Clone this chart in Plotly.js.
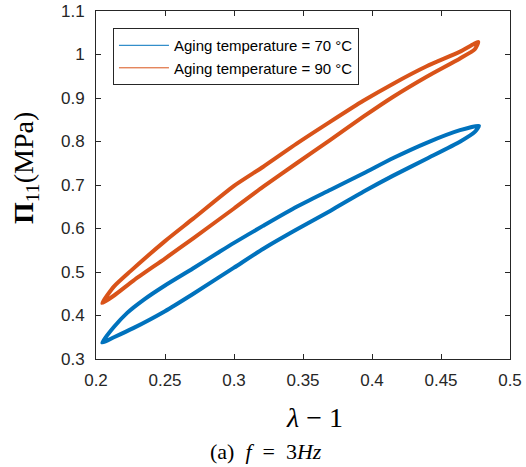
<!DOCTYPE html>
<html>
<head>
<meta charset="utf-8">
<script src="https://cdn.plot.ly/plotly-3.0.1.min.js"></script>
<style>html,body{margin:0;padding:0;background:#fff;}#chart{width:526px;height:467px;}</style>
</head>
<body>
<div id="chart"></div>
<script>
// Aging temperature = 70 °C : loop (lower branch left->right, then upper branch right->left)
var strain70 = [0.2045,0.213,0.227,0.25,0.27,0.3,0.321,0.345,0.37,0.394,0.415,0.44,0.464,0.4745,0.4775,
                0.4638,0.4396,0.4154,0.394,0.37,0.3454,0.321,0.3,0.2893,0.2702,0.25,0.2345,0.2226,0.2131,0.2045];
var stress70 = [0.338,0.350,0.371,0.410,0.449,0.510,0.553,0.597,0.641,0.685,0.721,0.761,0.800,0.822,0.836,
                0.826,0.797,0.762,0.727,0.689,0.650,0.606,0.567,0.546,0.508,0.469,0.436,0.406,0.374,0.338];
// Aging temperature = 90 °C
var strain90 = [0.2045,0.2131,0.2274,0.25,0.2702,0.3,0.3212,0.3454,0.3696,0.3937,0.4154,0.4396,0.4638,0.4745,0.477,
                0.4638,0.4396,0.4154,0.3937,0.3696,0.3454,0.3212,0.3,0.2702,0.25,0.225,0.2131,0.2045];
var stress90 = [0.4285,0.446,0.481,0.531,0.577,0.646,0.696,0.750,0.803,0.857,0.903,0.949,0.991,1.012,1.029,
                1.0065,0.973,0.933,0.8935,0.845,0.795,0.742,0.698,0.622,0.571,0.502,0.467,0.4285];
var seriesNames = ['Aging temperature = 70 °C', 'Aging temperature = 90 °C'];
var xTickVals = [0.2,0.25,0.3,0.35,0.4,0.45,0.5];
var yTickVals = [0.3,0.4,0.5,0.6,0.7,0.8,0.9,1,1.1];

var blue = '#0072BD', orange = '#D95319', axc = '#262626';
var data = [
  {x: strain70, y: stress70, mode:'lines', line:{color:blue, width:4, shape:'spline', smoothing:0.6}, showlegend:false, hoverinfo:'skip'},
  {x: strain90, y: stress90, mode:'lines', line:{color:orange, width:4, shape:'spline', smoothing:0.6}, showlegend:false, hoverinfo:'skip'},
  {x: strain70, y: stress70, mode:'lines', name: seriesNames[0], line:{color:blue, width:1, shape:'spline', smoothing:0.6}},
  {x: strain90, y: stress90, mode:'lines', name: seriesNames[1], line:{color:orange, width:1, shape:'spline', smoothing:0.6}}
];
var axisCommon = {
  showgrid:false, zeroline:false, showline:true, linecolor:axc, linewidth:1,
  mirror:'ticks', ticks:'inside', ticklen:5, tickwidth:1, tickcolor:axc,
  tickfont:{family:'Liberation Sans, Arial, sans-serif', size:17, color:axc}
};
var layout = {
  width:526, height:467,
  margin:{l:96, r:16, t:11, b:108, pad:0},
  paper_bgcolor:'#fff', plot_bgcolor:'#fff',
  xaxis: Object.assign({}, axisCommon, {range:[0.2,0.5], tickmode:'array', tickvals:xTickVals,
         ticktext: xTickVals.map(String), ticklabelstandoff:6}),
  yaxis: Object.assign({}, axisCommon, {range:[0.3,1.1], tickmode:'array', tickvals:yTickVals,
         ticktext: yTickVals.map(String), ticklabelstandoff:7}),
  legend:{x:0.041, y:0.951, xanchor:'left', yanchor:'top', bgcolor:'#fff', bordercolor:axc, borderwidth:1,
          font:{family:'Liberation Sans, Arial, sans-serif', size:15, color:'#000'}, itemwidth:50, tracegroupgap:0},
  annotations:[
    {xref:'paper', yref:'paper', x:-0.169, y:0.549, xanchor:'center', yanchor:'middle', textangle:-90, showarrow:false,
     text:'<b>Π</b><sub>11</sub>(MPa)', font:{family:'Liberation Serif, serif', size:28, color:'#000'}},
    {xref:'paper', yref:'paper', x:0.527, y:-0.167, xanchor:'center', yanchor:'middle', showarrow:false,
     text:'<i>λ</i> − 1', font:{family:'Liberation Serif, serif', size:28, color:'#000'}},
    {xref:'paper', yref:'paper', x:0.411, y:-0.267, xanchor:'center', yanchor:'middle', showarrow:false,
     text:'(a)&nbsp;&nbsp;<i>f</i>&nbsp;&nbsp;=&nbsp;&nbsp;3<i>Hz</i>', font:{family:'Liberation Serif, serif', size:22, color:'#000'}}
  ]
};
Plotly.newPlot('chart', data, layout, {staticPlot:true, displayModeBar:false});
</script>
</body>
</html>
